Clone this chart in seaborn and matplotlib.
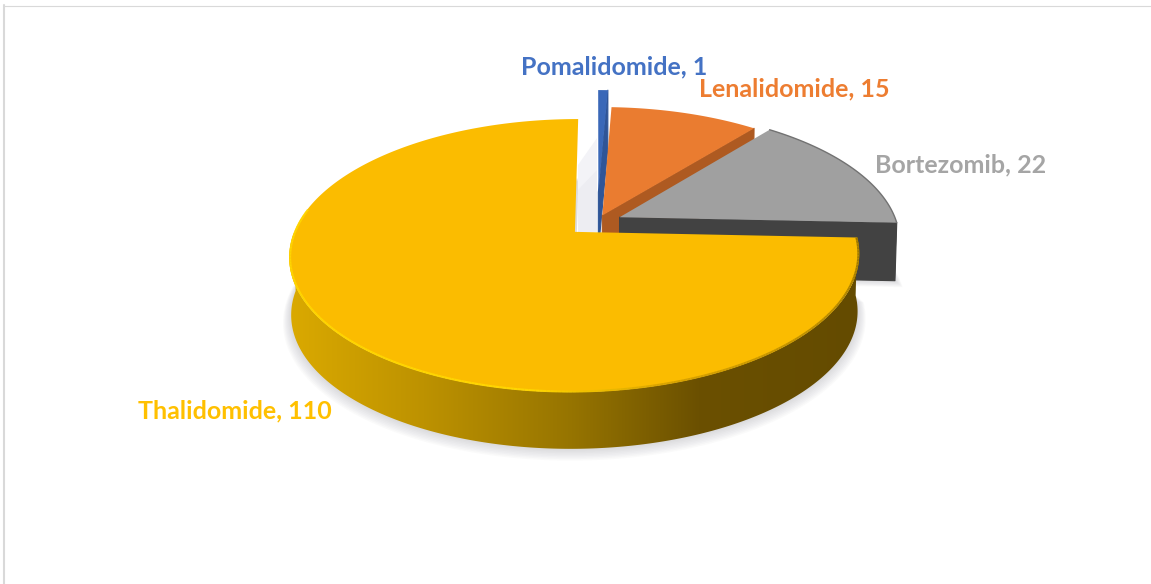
import numpy as np
import matplotlib
matplotlib.use("Agg")
import matplotlib.pyplot as plt
import seaborn as sns
from matplotlib.collections import LineCollection
from matplotlib.colors import LinearSegmentedColormap
from matplotlib.patches import Polygon

# chart data
drugs = ["Thalidomide", "Bortezomib", "Lenalidomide", "Pomalidomide"]
cases = [110, 22, 15, 1]

top_colors = ["#FBBC00", "#A0A0A0", "#EA7C30", "#3A68B8"]
wall_colors = ["#8F6F00", "#424242", "#AE5A21", "#2F5597"]
label_colors = ["#FFC000", "#A5A5A5", "#ED7D31", "#4472C4"]
explode = [0.109, 0.09, 0.055, 0.24]
label_xy = [(234.5, 411), (960.5, 164.5), (794.5, 88.5), (614, 66.5)]

# page position of the pie and how the plane is tilted
CX, CY = 597, 222
SX, SY = 277, 129
PERSP = 0.1714
DEPTH = 58
BASE_SHRINK = 0.006

sns.set_theme(style="white")
plt.rcParams["font.family"] = ["Lato", "DejaVu Sans"]
sns.set_palette(top_colors)


def project(u, v, z=0.0):
    w = 1 + PERSP * v + BASE_SHRINK * z
    return CX + SX * u / w, CY - SY * v / w + DEPTH * z


def arc_points(wedge, t, grow=1.0):
    u = wedge.center[0] + wedge.r * grow * np.cos(t)
    v = wedge.center[1] + wedge.r * grow * np.sin(t)
    return u, v


def wedge_outline(wedge, z=0.0, grow=1.0):
    t = np.radians(np.linspace(wedge.theta1, wedge.theta2, 240))
    u, v = arc_points(wedge, t, grow)
    u = np.r_[wedge.center[0], u]
    v = np.r_[wedge.center[1], v]
    x, y = project(u, v, z)
    return np.column_stack([x, y])


# the pie itself gives angles and exploded centres, it is then tilted below
helper_fig, helper_ax = plt.subplots()
wedges, _ = helper_ax.pie(cases, explode=explode, startangle=90, colors=top_colors)
plt.close(helper_fig)

fig = plt.figure(figsize=(11.51, 5.84), dpi=100, facecolor="white")
ax = fig.add_axes([0, 0, 1, 1])
ax.axis("off")

# thin page border, top and left only
ax.plot([3, 1151], [5.5, 5.5], color="#D9D9D9", lw=0.8, zorder=1)
ax.plot([4, 4], [5, 584], color="#D9D9D9", lw=1.5, zorder=1)

# soft shadow under the big slices
for wedge in wedges[:2]:
    for i in range(8, 0, -1):
        pts = wedge_outline(wedge, z=1.0, grow=1 + 0.0035 * i)
        pts[:, 1] += 0.8 * i
        ax.add_patch(Polygon(pts, closed=True, fc="#80808A", ec="none", alpha=0.035, zorder=2))

# faint shade in the gap next to the pomalidomide slice
ax.fill([578, 597, 597, 578], [165, 138, 232, 232], color="#F3F3F7", lw=0, zorder=2)
ax.fill([578, 597, 597, 578], [190, 170, 232, 232], color="#EDEDF2", lw=0, zorder=2)

gold_wall = LinearSegmentedColormap.from_list(
    "gold_wall",
    [(0.0, "#DBAA00"), (0.24, "#BD9200"), (0.5, "#967400"), (0.72, "#6B5000"), (1.0, "#644B00")],
)

# back to front so nearer slices cover the far ones
order = [3, 2, 1, 0]
for k in order:
    wedge = wedges[k]
    z_base = 10 + (3 - k) * 3

    if wedge.theta2 - wedge.theta1 < 180:
        # straight cut face on the clockwise side
        t0 = np.radians(wedge.theta1)
        u_end, v_end = arc_points(wedge, t0)
        cu, cv = wedge.center
        face = [project(cu, cv), project(u_end, v_end), project(u_end, v_end, 1.0), project(cu, cv, 1.0)]
        ax.add_patch(Polygon(face, closed=True, fc=wall_colors[k], ec=wall_colors[k], lw=0.8,
                             joinstyle="round", zorder=z_base))

    # rim of the slice
    t = np.radians(np.linspace(wedge.theta1, wedge.theta2, 400))
    t = t[np.sin(t) < 0.0]
    if len(t) > 1:
        u, v = arc_points(wedge, t)
        xt, yt = project(u, v)
        xb, yb = project(u, v, 1.0)
        wall = np.column_stack([np.r_[xt, xb[::-1]], np.r_[yt, yb[::-1]]])
        patch = Polygon(wall, closed=True, fc="none", ec="none", zorder=z_base)
        ax.add_patch(patch)
        if k == 0:
            img = ax.imshow(np.linspace(0, 1, 256).reshape(1, -1), cmap=gold_wall, aspect="auto",
                            extent=(285, 860, 470, 200), zorder=z_base + 0.5, vmin=0, vmax=1)
            img.set_clip_path(patch)
        else:
            patch.set_facecolor(wall_colors[k])

    ax.add_patch(Polygon(wedge_outline(wedge), closed=True, fc=top_colors[k], ec="none", zorder=z_base + 1))

# lit edge on the big slice, dull on the side away from the light
wedge = wedges[0]
t = np.radians(np.linspace(170, wedge.theta2, 300))
u, v = arc_points(wedge, t, 0.997)
x, y = project(u, v)
segs = np.stack([np.column_stack([x[:-1], y[:-1]]), np.column_stack([x[1:], y[1:]])], axis=1)
rim_map = LinearSegmentedColormap.from_list(
    "rim", [(0.0, "#FFD600"), (0.5, "#FFD600"), (0.62, "#D9A300"), (1.0, "#9A7500")]
)
ax.add_collection(LineCollection(segs, colors=rim_map(np.linspace(0, 1, len(segs))), lw=1.5, zorder=30))

# darker thin edge on the grey slice
wedge = wedges[1]
t = np.radians(np.linspace(wedge.theta1, wedge.theta2, 120))
u, v = arc_points(wedge, t)
x, y = project(u, v)
ax.plot(x, y, color="#727272", lw=1.0, zorder=24)

for name, n, col, (lx, ly) in zip(drugs, cases, label_colors, label_xy):
    ax.text(lx, ly, f"{name}, {n}", color=col, fontsize=18, fontweight="bold",
            ha="center", va="center", zorder=40)

ax.set_xlim(0, 1151)
ax.set_ylim(584, 0)
fig.savefig("out.png", dpi=100, facecolor="white")
plt.close(fig)
